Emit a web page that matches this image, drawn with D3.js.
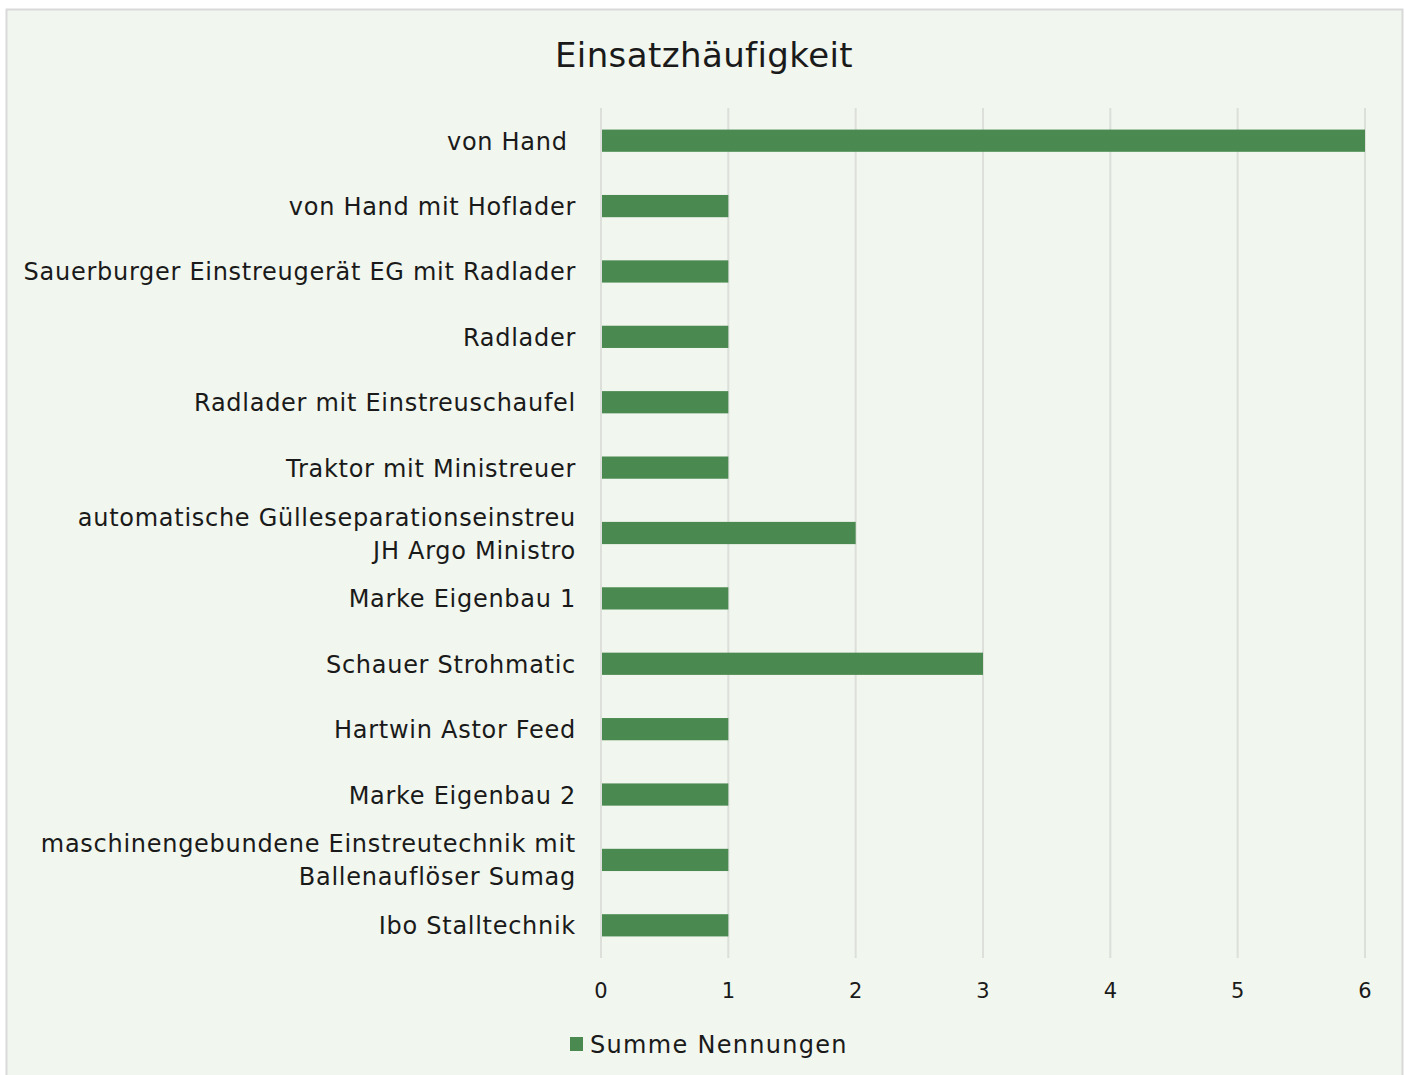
<!DOCTYPE html>
<html>
<head>
<meta charset="utf-8">
<script src="https://cdn.jsdelivr.net/npm/d3@7"></script>
<style>
  body { margin: 0; background: #fff; }
  text { font-family: "Century Gothic", "DejaVu Sans", sans-serif; fill: #1a1a1a; white-space: pre; }
</style>
</head>
<body>
<script>
var categories = [
	"von Hand ",
	"von Hand mit Hoflader",
	"Sauerburger Einstreugerät EG mit Radlader",
	"Radlader",
	"Radlader mit Einstreuschaufel",
	"Traktor mit Ministreuer",
	"automatische Gülleseparationseinstreu\nJH Argo Ministro",
	"Marke Eigenbau 1",
	"Schauer Strohmatic",
	"Hartwin Astor Feed",
	"Marke Eigenbau 2",
	"maschinengebundene Einstreutechnik mit\nBallenauflöser Sumag",
	"Ibo Stalltechnik"
];
var values = [6, 1, 1, 1, 1, 1, 2, 1, 3, 1, 1, 1, 1];
var ticks = [0, 1, 2, 3, 4, 5, 6];
var seriesName = "Summe Nennungen";
var title = "Einsatzhäufigkeit";

var width = 1405, height = 1075;
var barColor = "#4a8a50";

var svg = d3.select("body").append("svg")
	.attr("width", width)
	.attr("height", height);

// chart area
svg.append("rect")
	.attr("x", 6.5).attr("y", 9.5)
	.attr("width", 1396).attr("height", 1080)
	.attr("fill", "#f1f6ee")
	.attr("stroke", "#d9d9d9")
	.attr("stroke-width", 2);

svg.append("text")
	.attr("x", 704).attr("y", 67)
	.attr("text-anchor", "middle")
	.attr("font-size", 34)
	.attr("letter-spacing", 0.4)
	.text(title);

var x = d3.scaleLinear().domain([0, 6]).range([601, 1365]);
var y = d3.scaleBand().domain(categories).range([108, 958]).paddingInner(0.66).paddingOuter(0.33);

// gridlines
svg.append("g").selectAll("line")
	.data(ticks)
	.enter().append("line")
		.attr("x1", function(d) { return x(d); })
		.attr("x2", function(d) { return x(d); })
		.attr("y1", 108).attr("y2", 958)
		.attr("stroke", "#dcdfda")
		.attr("stroke-width", 2);

// bars
svg.append("g").selectAll("rect")
	.data(values)
	.enter().append("rect")
		.attr("x", x(0) + 1)
		.attr("y", function(d, i) { return y(categories[i]); })
		.attr("width", function(d) { return x(d) - x(0) - 1; })
		.attr("height", y.bandwidth())
		.attr("fill", barColor);

// x tick labels
svg.append("g").selectAll("text")
	.data(ticks)
	.enter().append("text")
		.attr("x", function(d) { return x(d); })
		.attr("y", 998)
		.attr("text-anchor", "middle")
		.attr("font-size", 21)
		.text(function(d) { return d; });

// category labels
var labels = svg.append("g").selectAll("text")
	.data(categories)
	.enter().append("text")
		.attr("text-anchor", "end")
		.attr("font-size", 24)
		.attr("letter-spacing", 0.72)
		.attr("transform", function(d) {
			return "translate(576," + (y(d) + y.bandwidth() / 2) + ")";
		});

labels.each(function(d) {
	var lines = d.split("\n");
	var t = d3.select(this);
	lines.forEach(function(line, j) {
		t.append("tspan")
			.attr("x", 0)
			.attr("y", (j - (lines.length - 1) / 2) * 33 + 9)
			.text(line);
	});
});

// legend
svg.append("rect")
	.attr("x", 570).attr("y", 1037)
	.attr("width", 13).attr("height", 14)
	.attr("fill", barColor);
svg.append("text")
	.attr("x", 590).attr("y", 1053)
	.attr("font-size", 24)
	.attr("letter-spacing", 1.3)
	.text(seriesName);
</script>
</body>
</html>
